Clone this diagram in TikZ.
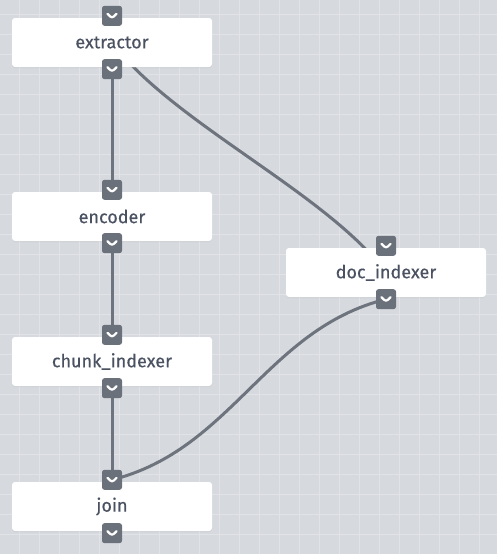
\documentclass[tikz,border=0pt]{standalone}
\usepackage{fontspec}
\newfontfamily\stagefont{Fira Sans}[FakeBold=0.45]
\usetikzlibrary{shadows}
\definecolor{canvasbg}{HTML}{D6D9DE}
\definecolor{gridline}{HTML}{E1E3E7}
\definecolor{portgray}{HTML}{6B717B}
\definecolor{edgegray}{HTML}{6E747D}
\definecolor{labelgray}{HTML}{4A5262}
\pgfdeclarelayer{gridlayer}
\pgfdeclarelayer{edgelayer}
\pgfsetlayers{gridlayer,edgelayer,main}
\tikzset{
    stage/.style={rectangle, fill=white, rounded corners=3pt,
        minimum width=200pt, minimum height=49pt, inner sep=0pt,
        text=labelgray, font=\stagefont\fontsize{18}{21}\selectfont,
        drop shadow={opacity=0.12, shadow xshift=0pt, shadow yshift=-1pt}},
    port/.style={rectangle, fill=portgray, rounded corners=2.5pt,
        minimum size=20pt, inner sep=0pt,
        path picture={\draw[white, line width=2.2pt, line cap=round, line join=round]
            ([xshift=-4.5pt,yshift=2pt]path picture bounding box.center)
            -- ([yshift=-2.5pt]path picture bounding box.center)
            -- ([xshift=4.5pt,yshift=2pt]path picture bounding box.center);}},
    edge/.style={draw=edgegray, line width=3pt}
}
\begin{document}
\begin{tikzpicture}[x=1pt,y=-1pt]
        \useasboundingbox (0,0) rectangle (497,554);
        %% canvas and grid
        \begin{pgfonlayer}{gridlayer}
            \fill[canvasbg] (0,0) rectangle (497,554);
            \foreach \gx in {19,39,...,499}
                \draw[gridline, line width=0.9pt] (\gx,0) -- (\gx,554);
            \foreach \gy in {14,34,...,554}
                \draw[gridline, line width=0.9pt] (0,\gy) -- (497,\gy);
        \end{pgfonlayer}
        %% stages
        \node[stage] (extractor) at (112,42.5) {extractor};
        \node[stage] (encoder) at (112,216.5) {encoder};
        \node[stage] (chunk_indexer) at (112,361.5) {chunk\_indexer};
        \node[stage] (join) at (112,506.5) {join};
        \node[stage] (doc_indexer) at (386,272.5) {doc\_indexer};
        %% in and out ports
        \foreach \s in {extractor,encoder,chunk_indexer,join,doc_indexer} {
            \node[port, yshift=2pt] (\s-in) at (\s.north) {};
            \node[port, yshift=-2pt] (\s-out) at (\s.south) {};
        }
        %% connections
        \begin{pgfonlayer}{edgelayer}
            \draw[edge] (extractor-out.center) -- (encoder-in.center);
            \draw[edge] (encoder-out.center) -- (chunk_indexer-in.center);
            \draw[edge] (chunk_indexer-out.center) -- (join-in.center);
            \draw[edge] (extractor.center) .. controls +(60,80) and +(-60,-80) .. (doc_indexer.center);
            \draw[edge] (doc_indexer-out.center) .. controls +(-120,30) and +(120,-30) .. (join-in.center);
        \end{pgfonlayer}
    \end{tikzpicture}
\end{document}
